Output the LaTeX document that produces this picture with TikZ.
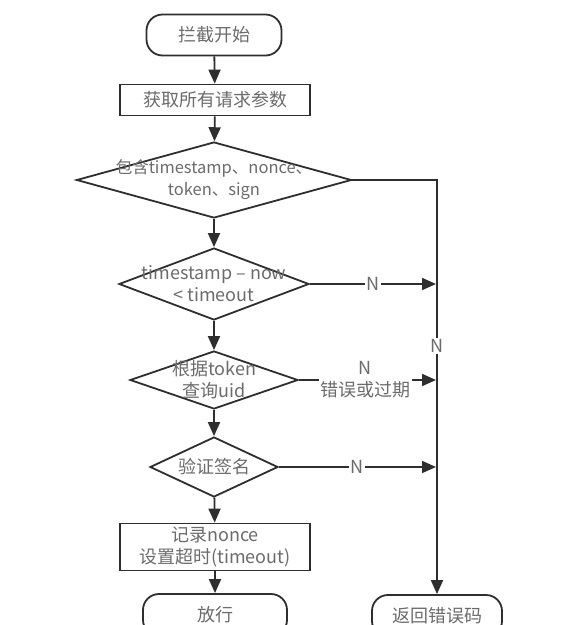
\documentclass[tikz,border=0pt]{standalone}
\usepackage{fontspec}
\setmainfont{Noto Sans CJK SC}
\usetikzlibrary{arrows.meta, positioning, shapes.geometric}

\begin{document}
\begin{tikzpicture}[
    x=1pt, y=-1pt,
    every node/.style={font=\fontsize{18}{22}\selectfont, text=black!58, align=center, inner sep=0pt},
    terminal/.style={draw, rounded corners=16pt, minimum width=140pt, minimum height=42pt},
    procbox/.style={draw, minimum width=190pt},
    decision/.style={draw, diamond},
    flow/.style={-{Triangle[length=14pt, width=12pt]}},
    nlabel/.style={fill=white, inner sep=1.5pt},
]
  \useasboundingbox (0,0) rectangle (567,625);
  \clip (0,0) rectangle (567,625);
  \begin{scope}[line width=1.8pt, draw=black!82]

  % main column
  \node[terminal, minimum width=135pt, minimum height=41pt] (start) at (214,35) {拦截开始};
  \node[procbox, minimum height=31pt] (params) at (215,100) {获取所有请求参数};
  \node[decision, minimum width=275pt, minimum height=76pt] (hasall) at (214,180) {};
  \node[decision, minimum width=190pt, minimum height=72pt] (expire) at (214,284) {};
  \node[decision, minimum width=168pt, minimum height=58pt] (uid) at (214,380) {};
  \node[decision, minimum width=128pt, minimum height=60pt] (sign) at (214,467) {};
  \node[procbox, minimum height=47pt] (record) at (215,547) {记录nonce\\设置超时(timeout)};
  \node[terminal, minimum width=144pt] (pass) at (215,615) {放行};

  % decision texts
  \node[font=\fontsize{16.5}{22}\selectfont] at (hasall) {包含timestamp、nonce、\\token、sign};
  \node at (expire) {timestamp – now\\< timeout};
  \node at (uid) {根据token\\查询uid};
  \node at (sign) {验证签名};

  % error column
  \node[terminal, minimum width=130pt] (error) at (437,616) {返回错误码};
  \coordinate (jexpire) at (436,284);
  \coordinate (juid) at (436,380);
  \coordinate (jsign) at (436,467);

  \draw[flow] (start) -- (params);
  \draw[flow] (params) -- (hasall);
  \draw[flow] (hasall) -- (expire);
  \draw[flow] (expire) -- (uid);
  \draw[flow] (uid) -- (sign);
  \draw[flow] (sign) -- (record);
  \draw[flow] (record) -- (pass);

  \draw[flow] (hasall.east) -- (hasall.east -| error) -- node[nlabel, pos=0.4] {N} (error.north);
  \draw[flow] (expire.east) -- node[nlabel] {N} (jexpire);
  \draw[flow] (uid.east) -- node[nlabel, xshift=-2pt] {N\\错误或过期} (juid);
  \draw[flow] (sign.east) -- node[nlabel] {N} (jsign);
  \end{scope}
\end{tikzpicture}
\end{document}
